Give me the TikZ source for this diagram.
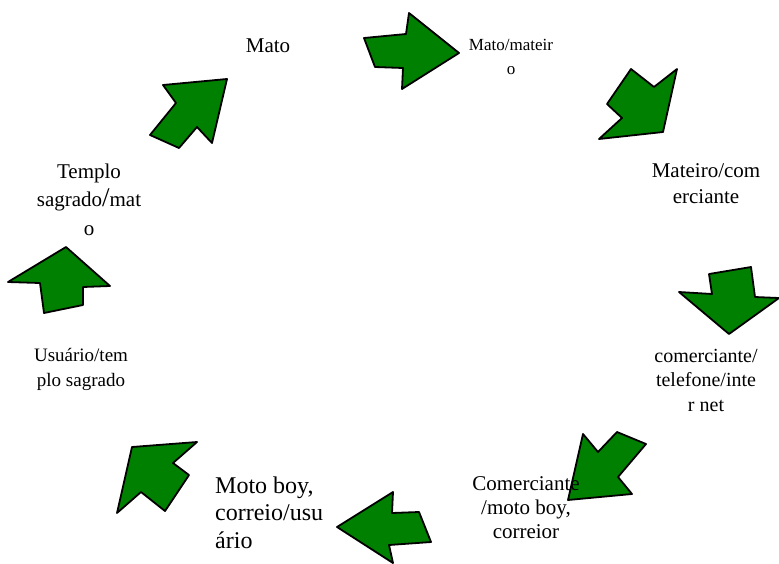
\documentclass[tikz,border=0pt]{standalone}
\usepackage{fontspec}
\setmainfont{Liberation Serif}
\newfontfamily\labelfont{Liberation Serif}
\definecolor{leafgreen}{RGB}{0,128,0}
\tikzset{
  bigarrow/.style={draw=black, fill=leafgreen, line width=1.8pt, line join=round},
  stage/.style={anchor=base, align=center, inner sep=0pt}
}
\begin{document}
\begin{tikzpicture}[x=1pt,y=-1pt]
\useasboundingbox (0,0) rectangle (779,563);

% block arrows between the stages
\filldraw[bigarrow] (364,38)--(406,34)--(409,13)--(459,53)--(402,89)--(403,68)--(375,67)--cycle;
\filldraw[bigarrow] (631,69)--(654,87)--(677,69)--(663,132)--(599,139)--(622,118)--(607,104)--cycle;
\filldraw[bigarrow] (709,274)--(751,267)--(755,297)--(779,298)--(729,334)--(679,292)--(712,294)--cycle;
\filldraw[bigarrow] (583,434)--(598,452)--(617,432)--(646,444)--(618,477)--(632,494)--(568,500)--cycle;
\filldraw[bigarrow] (393,492)--(392,513)--(419,512)--(431,542)--(389,545)--(393,563)--(337,527)--cycle;
\filldraw[bigarrow] (132,447)--(197,442)--(173,463)--(189,475)--(165,511)--(141,492)--(117,513)--cycle;
\filldraw[bigarrow] (66,247)--(110,286)--(83,287)--(83,305)--(44,313)--(40,283)--(8,282)--cycle;
\filldraw[bigarrow] (227,79)--(212,143)--(197,127)--(179,148)--(150,135)--(176,103)--(163,85)--cycle;

% labels of the cycle (placed at the baseline of their last line)
\node[stage, font=\labelfont\fontsize{21}{24}\selectfont] (mato) at (268,52) {Mato};
\node[stage, font=\labelfont\fontsize{17}{24}\selectfont] (matomateiro) at (511,74) {Mato/mateir\\o};
\node[stage, font=\labelfont\fontsize{21}{26}\selectfont] (mateirocom) at (706,203) {Mateiro/com\\erciante};
\node[stage, font=\labelfont\fontsize{20}{24.5}\selectfont] (comtel) at (706,411) {comerciante/\\telefone/inte\\r net};
\node[stage, font=\labelfont\fontsize{21}{24}\selectfont] (commoto) at (526,538) {Comerciante\\/moto boy,\\correior};
\node[stage, anchor=base west, align=left, font=\labelfont\fontsize{24}{27.5}\selectfont] (motousu) at (215,548) {Moto boy,\\correio/usu\\ário};
\node[stage, font=\labelfont\fontsize{19}{25}\selectfont] (usutemplo) at (81,386) {Usuário/tem\\plo sagrado};
\node[stage, font=\labelfont\fontsize{21}{28.5}\selectfont] (templomato) at (89,235)
  {Templo\\sagrado{\fontsize{27}{27}\selectfont/}mat\\o};

\end{tikzpicture}
\end{document}
